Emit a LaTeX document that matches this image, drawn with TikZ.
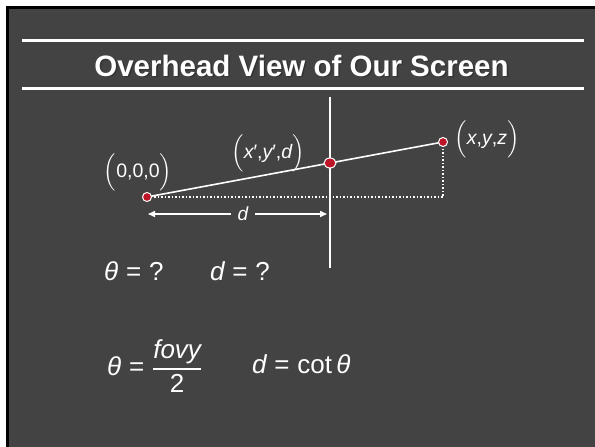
\documentclass[tikz,border=0pt]{standalone}
\usepackage{amsmath}
\usepackage{fontspec}
\setmainfont{Liberation Sans}
\definecolor{slidegray}{RGB}{67,67,67}
\definecolor{dotred}{RGB}{190,20,40}
\usetikzlibrary{arrows.meta,shapes.geometric}
\newcommand{\tri}[1]{$\Bigl($#1$\Bigr)$}
\newcommand{\eqsign}{\hspace{0.3em}=\hspace{0.3em}}

\begin{document}
\begin{tikzpicture}[x=1pt, y=-1pt, line cap=butt]
  \useasboundingbox (0,0) rectangle (595,447);

  %% Slide background
  \fill[white] (0,0) rectangle (595,447);
  \fill[black] (6,6) rectangle (595,447);
  \fill[slidegray] (9,9) rectangle (595,447);

  %% Title bar
  \draw[white, line width=3pt] (22,40) -- (584,40);
  \draw[white, line width=3pt] (22,88) -- (584,88);
  \node[anchor=base, text=black!80, font=\fontsize{29.5}{32}\selectfont\bfseries] (titleshadow) at (303,77.5) {Overhead View of Our Screen};
  \node[anchor=base, text=white, font=\fontsize{29.5}{32}\selectfont\bfseries] (title) at (301.5,76) {Overhead View of Our Screen};

  %% Screen and ray
  \coordinate (scrtop) at (330,97);
  \coordinate (scrbot) at (330,268);
  \coordinate (o) at (147,197);
  \coordinate (p) at (443,142);
  \coordinate (foot) at (443,197);
  \coordinate (q) at (intersection of o--p and scrtop--scrbot);

  \draw[white, line width=1.5pt] (scrtop) -- (scrbot);
  \draw[white, line width=1.5pt, dash pattern=on 1.5pt off 2pt] (o) -- (foot) -- (p);
  \draw[white, line width=1.6pt] (o) -- (p);

  %% Points
  \node[circle, fill=dotred, draw=white, line width=1pt, inner sep=0pt, minimum size=9pt] (odot) at (o) {};
  \node[ellipse, fill=dotred, draw=white, line width=1pt, inner sep=0pt, minimum width=12pt, minimum height=10pt] (qdot) at (q) {};
  \node[circle, fill=dotred, draw=white, line width=1pt, inner sep=0pt, minimum size=9pt] (pdot) at (p) {};

  %% Point labels
  \node[text=white, font=\fontsize{19.5}{22}\selectfont] (olab) at (138,172) {\tri{0,0,0}};
  \node[text=white, font=\fontsize{19.5}{22}\selectfont] (qlab) at (268,153) {\tri{{\itshape x}′,{\itshape y}′,{\itshape d}}};
  \node[text=white, font=\fontsize{19.5}{22}\selectfont] (plab) at (487,139) {\tri{{\itshape x},{\itshape y},{\itshape z}}};

  %% Distance d
  \coordinate (dl) at (148,214);
  \coordinate (dr) at (327,214);
  \node[text=white, font=\fontsize{19}{22}\selectfont\itshape, inner xsep=7pt, inner ysep=0pt] (dlab) at (243,214) {d};
  \draw[-{Triangle[length=7pt, width=6pt]}, white, line width=1.5pt] (dlab) -- (dl);
  \draw[-{Triangle[length=7pt, width=6pt]}, white, line width=1.5pt] (dlab) -- (dr);

  %% Equations
  \node[anchor=base west, text=white, font=\fontsize{26}{30}\selectfont, inner sep=0pt] (eqtheta) at (104,280) {{\itshape θ}\eqsign?};
  \node[anchor=base west, text=white, font=\fontsize{26}{30}\selectfont, inner sep=0pt] (eqd) at (210,280) {{\itshape d}\eqsign?};
  \node[anchor=west, text=white, font=\fontsize{26}{30}\selectfont, inner sep=0pt] (fovy) at (107,366) {{\itshape θ}\eqsign$\genfrac{}{}{1.4pt}{0}{\mbox{\itshape fovy}}{\mbox{2}}$};
  \node[anchor=base west, text=white, font=\fontsize{26}{30}\selectfont, inner sep=0pt] (cot) at (252,373) {{\itshape d}\eqsign cot\,{\itshape θ}};
\end{tikzpicture}
\end{document}
